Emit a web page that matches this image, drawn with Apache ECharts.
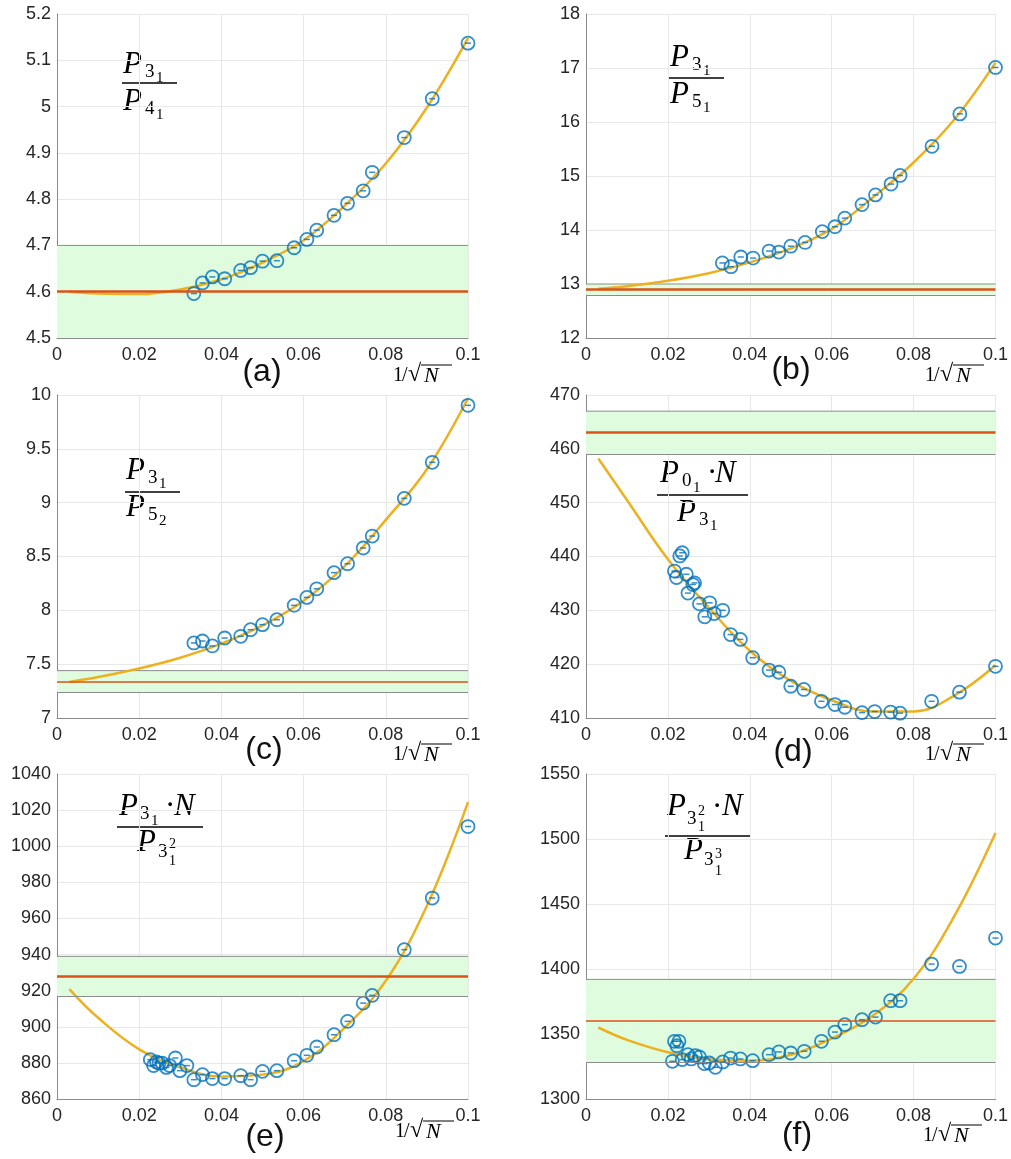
<!DOCTYPE html>
<html>
<head>
<meta charset="utf-8">
<script src="https://cdn.jsdelivr.net/npm/echarts@6/dist/echarts.min.js"></script>
<style>
  html, body { margin: 0; padding: 0; background: #fff; }
  #chart { width: 1011px; height: 1159px; }
</style>
</head>
<body>
<div id="chart"></div>
<script>
// measured points, x = 1/sqrt(N)
const xABC = [0.0333, 0.0354, 0.0378, 0.0408, 0.0447, 0.0471, 0.05, 0.0535, 0.0577, 0.0608, 0.0632, 0.0674, 0.0707, 0.0745, 0.0767, 0.0845, 0.0913, 0.1];
const yA = [4.596, 4.619, 4.632, 4.628, 4.646, 4.652, 4.666, 4.667, 4.695, 4.713, 4.733, 4.765, 4.791, 4.818, 4.858, 4.933, 5.017, 5.137];
const yB = [13.39, 13.32, 13.50, 13.48, 13.61, 13.59, 13.70, 13.77, 13.97, 14.06, 14.22, 14.47, 14.65, 14.85, 15.01, 15.55, 16.15, 17.01];
const yC = [7.697, 7.715, 7.669, 7.743, 7.759, 7.820, 7.867, 7.913, 8.046, 8.12, 8.20, 8.35, 8.433, 8.579, 8.69, 9.04, 9.375, 9.904];

const xD = [0.0216, 0.0221, 0.0229, 0.0235, 0.0245, 0.0249, 0.0261, 0.0265, 0.0277, 0.029, 0.0302, 0.0313, 0.0334, 0.0353, 0.0377, 0.0407, 0.0447, 0.0471, 0.05, 0.0532, 0.0575, 0.0608, 0.0632, 0.0674, 0.0705, 0.0744, 0.0767, 0.0844, 0.0912, 0.1];
const yD = [437.3, 436.1, 440.1, 440.7, 436.7, 433.2, 434.8, 435.1, 431.2, 428.8, 431.4, 429.4, 430.0, 425.5, 424.6, 421.2, 418.9, 418.5, 415.9, 415.3, 413.1, 412.5, 412.0, 411.0, 411.2, 411.1, 410.9, 413.1, 414.8, 419.6];

const xE = [0.0227, 0.0235, 0.0242, 0.0248, 0.0256, 0.0266, 0.0274, 0.0288, 0.0299, 0.0316, 0.0333, 0.0354, 0.0378, 0.0408, 0.0447, 0.0471, 0.05, 0.0535, 0.0577, 0.0608, 0.0632, 0.0674, 0.0707, 0.0745, 0.0767, 0.0845, 0.0913, 0.1];
const yE = [881.8, 878.5, 880.5, 879.9, 879.9, 877.5, 878.5, 882.7, 875.7, 878.5, 870.7, 873.5, 871.3, 871.3, 872.9, 870.7, 875.3, 875.7, 881.2, 884.2, 888.8, 895.6, 903.0, 913.1, 917.4, 942.7, 971.3, 1010.9];

const xF = [0.0211, 0.0216, 0.0222, 0.0227, 0.0235, 0.0249, 0.0257, 0.0267, 0.0277, 0.0289, 0.0301, 0.0316, 0.0334, 0.0353, 0.0377, 0.0407, 0.0447, 0.0471, 0.05, 0.0533, 0.0575, 0.0608, 0.0632, 0.0674, 0.0707, 0.0744, 0.0767, 0.0844, 0.0912, 0.1];
const yF = [1329, 1344.4, 1341, 1344.4, 1330.3, 1334.1, 1330.8, 1333.3, 1332.3, 1327.2, 1327.7, 1324.4, 1328.5, 1331.5, 1330.8, 1329.5, 1334.1, 1336.2, 1335.4, 1336.7, 1344.4, 1351.5, 1357.2, 1361, 1363, 1375.6, 1375.6, 1403.8, 1402, 1423.8];

// fit curves
const fitX = [0.003, 0.01, 0.02, 0.03, 0.04, 0.05, 0.06, 0.07, 0.08, 0.09, 0.1];
const fitA = [4.600, 4.596, 4.595, 4.605, 4.627, 4.663, 4.711, 4.786, 4.877, 4.998, 5.148];
const fitB = [12.91, 12.96, 13.06, 13.20, 13.40, 13.66, 14.02, 14.60, 15.25, 16.05, 17.10];
const fitC = [7.334, 7.38, 7.46, 7.56, 7.69, 7.86, 8.09, 8.41, 8.84, 9.31, 9.97];
const fitD = [458.2, 450.5, 439.5, 430.5, 422.5, 416.9, 413.3, 411.2, 411.2, 414.2, 419.8];
const fitE = [920.9, 905.0, 887.5, 877.5, 872.5, 873.5, 881.0, 899.5, 925.5, 967.0, 1024.4];
const fitF = [1355, 1345.5, 1336, 1330.5, 1329.5, 1334, 1346.5, 1364, 1392.5, 1441, 1504.6];

// reference value and its band
const refVal = [4.6, 12.9, 7.34, 463, 928, 1360];
const bandLow = [4.5, 12.8, 7.24, 459, 917, 1328];
const bandHigh = [4.7, 13.0, 7.44, 467, 939, 1392];

// axes
const yMin = [4.5, 12, 7, 410, 860, 1300];
const yMax = [5.2, 18, 10, 470, 1040, 1550];
const yStep = [0.1, 1, 0.5, 10, 20, 50];
const xMin = 0, xMax = 0.1, xStep = 0.02;
const panelLetters = ['(a)', '(b)', '(c)', '(d)', '(e)', '(f)'];

const pointsX = [xABC, xABC, xABC, xD, xE, xF];
const pointsY = [yA, yB, yC, yD, yE, yF];
const fitsY = [fitA, fitB, fitC, fitD, fitE, fitF];

const BLUE = '#0072BD', GOLD = '#EDB120', RUST = '#D95319';
const SANS = 'Liberation Sans';
const SERIF = 'Liberation Serif';
const refWidth = [2.5, 2.5, 1.6, 2.5, 2.5, 1.6];

const boxes = [
  [57, 14, 411, 324], [586, 14, 411, 324],
  [57, 395, 411, 323], [586, 395, 411, 323],
  [57, 774, 411, 325], [586, 774, 411, 325]
];

const zip = (xs, ys) => xs.map((x, i) => [x, ys[i]]);
const plain = v => String(parseFloat(v.toPrecision(10)));

const series = [];
boxes.forEach((b, i) => {
  // green band: top edge line filled down to the low edge
  series.push({
    type: 'line', xAxisIndex: i, yAxisIndex: i, z: 1, silent: true,
    data: [[xMin, bandHigh[i]], [xMax, bandHigh[i]]], showSymbol: false,
    lineStyle: { color: '#8c8c8c', width: 1 },
    areaStyle: { color: '#dffcdf', opacity: 1, origin: bandLow[i] },
    markLine: {
      silent: true, symbol: 'none', animation: false,
      label: { show: false },
      data: [
        { yAxis: bandLow[i], lineStyle: { color: '#8c8c8c', width: 1, type: 'solid' } },
        { yAxis: refVal[i], lineStyle: { color: RUST, width: refWidth[i], type: 'solid' } }
      ]
    }
  });
  series.push({
    type: 'line', xAxisIndex: i, yAxisIndex: i, z: 3,
    data: zip(fitX, fitsY[i]), smooth: 0.4, showSymbol: false,
    lineStyle: { color: GOLD, width: 2.5 }
  });
  series.push({
    type: 'scatter', xAxisIndex: i, yAxisIndex: i, z: 4,
    data: zip(pointsX[i], pointsY[i]), symbol: 'circle', symbolSize: 13,
    itemStyle: { color: 'rgba(255,255,255,0)', borderColor: BLUE, borderWidth: 1.8 }
  });
  series.push({
    type: 'scatter', xAxisIndex: i, yAxisIndex: i, z: 5,
    data: zip(pointsX[i], pointsY[i]), symbol: 'rect', symbolSize: [6, 1.5],
    itemStyle: { color: BLUE }
  });
});

// LaTeX-like labels built from positioned glyphs
function glyphs(x0, y0, items) {
  return items.map(([s, dx, dy, size, it]) => ({
    type: 'text', x: x0 + dx, y: y0 + dy, silent: true,
    style: {
      text: s, fill: '#000',
      fontSize: size, fontFamily: SERIF, fontStyle: it ? 'italic' : 'normal',
      textAlign: 'left', textVerticalAlign: 'middle'
    }
  }));
}
function fraction(x0, y0, w, items) {
  return [
    { type: 'line', silent: true, shape: { x1: x0, y1: y0, x2: x0 + w, y2: y0 }, style: { stroke: '#000', lineWidth: 1.3 } },
    ...glyphs(x0, y0, items)
  ];
}
function xName(x0, y0) {
  return [
    ...glyphs(x0, y0, [['1', 0, 0, 20], ['/', 9, 0, 20], ['\u221A', 15, -1, 24], ['N', 31, 0, 22, 1]]),
    { type: 'line', silent: true, shape: { x1: x0 + 28, y1: y0 - 11, x2: x0 + 59, y2: y0 - 11 }, style: { stroke: '#000', lineWidth: 1 } }
  ];
}

const simple = (a, b, c, d, up) => [['P', 1, -18 - up, 31, 1], [a, 23, -11 - up, 19], [b, 34, -5 - up, 15], ['P', 1, 19 - up, 31, 1], [c, 23, 26 - up, 19], [d, 34, 32 - up, 15]];

const graphics = [
  ...fraction(122, 83, 55, simple('3', '1', '4', '1', 0)),
  ...fraction(669, 78, 55, simple('3', '1', '5', '1', 2)),
  ...fraction(125, 492, 55, simple('3', '1', '5', '2', 3)),
  ...fraction(657, 495, 91, [['P', 3, -21, 31, 1], ['0', 25, -14, 19], ['1', 36, -7, 15], ['\u00B7', 50, -21, 31], ['N', 58, -21, 31, 1],
    ['P', 20, 18, 31, 1], ['3', 42, 25, 19], ['1', 53, 31, 15]]),
  ...fraction(117, 827, 86, [['P', 2, -20, 31, 1], ['3', 23, -13, 19], ['1', 34, -6, 15], ['\u00B7', 48, -20, 31], ['N', 57, -20, 31, 1],
    ['P', 20, 16, 31, 1], ['3', 41, 25, 19], ['2', 52, 17, 14], ['1', 52, 34, 14]]),
  ...fraction(665, 836, 86, [['P', 2, -29, 31, 1], ['3', 22, -17, 19], ['2', 33, -25, 14], ['1', 33, -8.5, 14], ['\u00B7', 47, -28, 31], ['N', 57, -29, 31, 1],
    ['P', 19, 15, 31, 1], ['3', 39, 24, 19], ['3', 50, 18, 14], ['1', 50, 35, 14]]),
  ...xName(393, 376), ...xName(925, 376),
  ...xName(393, 755), ...xName(925, 755),
  ...xName(395, 1132), ...xName(923, 1136)
];
const letterPos = [[262, 372], [791, 370], [264, 750], [793, 752], [265, 1137], [797, 1135]];
panelLetters.forEach((s, i) => {
  graphics.push({
    type: 'text', x: letterPos[i][0], y: letterPos[i][1], silent: true,
    style: { text: s, fill: '#111', fontSize: 32, fontFamily: SANS, textAlign: 'center', textVerticalAlign: 'middle' }
  });
});

const chart = echarts.init(document.getElementById('chart'));
chart.setOption({
  animation: false,
  backgroundColor: '#fff',
  grid: boxes.map(b => ({ left: b[0], top: b[1], width: b[2], height: b[3] })),
  xAxis: boxes.map((b, i) => ({
    type: 'value', gridIndex: i, min: xMin, max: xMax, interval: xStep,
    axisLine: { onZero: false, lineStyle: { color: '#8a8a8a', width: 1 } },
    axisTick: { show: false },
    axisLabel: { color: '#262626', fontSize: 18, fontFamily: SANS, margin: 8, formatter: plain },
    splitLine: { show: true, lineStyle: { color: '#e8e8e8', width: 1 } }
  })),
  yAxis: boxes.map((b, i) => ({
    type: 'value', gridIndex: i, min: yMin[i], max: yMax[i], interval: yStep[i],
    axisLine: { show: true, onZero: false, lineStyle: { color: '#8a8a8a', width: 1 } },
    axisTick: { show: false },
    axisLabel: { color: '#262626', fontSize: 18, fontFamily: SANS, margin: 6, formatter: plain },
    splitLine: { show: true, lineStyle: { color: '#e8e8e8', width: 1 } }
  })),
  series: series,
  graphic: graphics
});
</script>
</body>
</html>
